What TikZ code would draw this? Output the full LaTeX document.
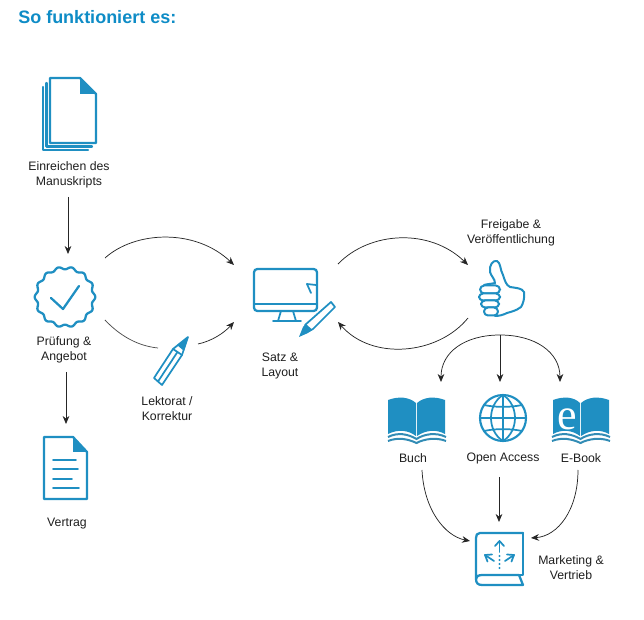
\documentclass[tikz,border=0pt]{standalone}
\usepackage{fontspec}
\setmainfont{Liberation Sans}
\newfontfamily\efont{Liberation Serif}
\usetikzlibrary{arrows.meta}
\definecolor{ib}{HTML}{1F8FC2}
\definecolor{tit}{HTML}{0E8CC6}
\definecolor{txt}{HTML}{1E1E1E}
\tikzset{
  icon/.style={draw=ib,line width=1.7pt,line join=round,line cap=round},
  thin icon/.style={draw=ib,line width=1.3pt,line join=round,line cap=round},
  band/.style={draw=ib!80!gray,line width=1.5pt},
  lab/.style={font=\fontsize{9.2pt}{11.3pt}\selectfont,text=txt,align=center,inner sep=0pt},
  conn/.style={draw=black!85,line width=0.55pt,-{Stealth[length=6pt,width=5pt]}},
  plain/.style={draw=black!70,line width=0.55pt}
}
\begin{document}
\begin{tikzpicture}[x=0.75pt,y=-0.75pt]
\useasboundingbox (0,0) rectangle (644,620);
\node[anchor=west,inner sep=0pt,font=\bfseries\fontsize{13.5pt}{15pt}\selectfont,text=tit] (title) at (18,17) {So funktioniert es:};

% labels
\node[lab] (l1) at (69,175) {Einreichen des\\Manuskripts};
\node[lab] (l2) at (64,350) {Prüfung \&\\Angebot};
\node[lab] (l3) at (67,524) {Vertrag};
\node[lab] (l4) at (167,409) {Lektorat /\\Korrektur};
\node[lab] (l5) at (280,366) {Satz \&\\Layout};
\node[lab] (l6) at (511,233) {Freigabe \&\\Veröffentlichung};
\node[lab] (l7) at (413,458) {Buch};
\node[lab] (l8) at (503,458) {Open Access};
\node[lab] (l9) at (581,458) {E-Book};
\node[lab] (l10) at (571,568) {Marketing \&\\Vertrieb};

% connector ends
\foreach \n/\x/\y in {a1/68/197,a2/68/254,b1/66/372,b2/66/424,c1/105/258,c2/234/265,d1/105/320,d2/158/348,d3/198/344,d4/234/322,e1/338/264,e2/468/265,f1/468/318,f2/338/322,g0/500/335,g1/441/382,g2/500/382,g3/560/382,h1/422/470,h2/470/541,i1/499/477,i2/499/522,j1/578/470,j2/531/538}
  \coordinate (\n) at (\x,\y);

\draw[conn] (a1) -- (a2);
\draw[conn] (b1) -- (b2);
\draw[conn] (c1) .. controls (135,231) and (195,228) .. (c2);
\draw[plain] (d1) .. controls (120,336) and (138,346) .. (d2);
\draw[conn] (d3) .. controls (212,341) and (224,333) .. (d4);
\draw[conn] (e1) .. controls (370,231) and (430,228) .. (e2);
\draw[conn] (f1) .. controls (438,355) and (372,361) .. (f2);
\draw[conn] (g0) .. controls (465,335) and (441,352) .. (g1);
\draw[conn] (g0) -- (g2);
\draw[conn] (g0) .. controls (535,335) and (560,352) .. (g3);
\draw[conn] (h1) .. controls (424,510) and (445,536) .. (h2);
\draw[conn] (i1) -- (i2);
\draw[conn] (j1) .. controls (578,510) and (558,536) .. (j2);

% stack of pages
\draw[icon] (50,78) -- (80,78) -- (96,94) -- (96,143) -- (50,143) -- cycle;
\fill[ib] (80,78) -- (96,94) -- (80,94) -- cycle;
\draw[icon] (46.5,83) -- (46.5,146.5) -- (92,146.5);
\draw[icon] (43,87) -- (43,150) -- (88,150);

% badge
\draw[icon,samples=280,domain=0:360] plot ({65+(29+1.3*cos(14*\x))*cos(\x)},{297+(29+1.3*cos(14*\x))*sin(\x)}) -- cycle;
\draw[icon] (51,298) -- (63,309) -- (79,286);

% pencil
\draw[thin icon] (188,337) -- (173,349) -- (154,378) -- (162,385) -- (182,355) -- cycle;
\draw[thin icon] (177.5,352) -- (158,381.5);
\draw[thin icon] (173,349) -- (182,355);
\fill[ib] (188,337) -- (177,345) -- (184,351) -- cycle;

% monitor
\draw[icon,rounded corners=2.5pt] (254,269) rectangle (317,311);
\draw[icon] (254,304) -- (317,304);
\draw[thin icon] (281,311) -- (278,321);
\draw[thin icon] (293,311) -- (296,321);
\draw[thin icon] (273,321) -- (301,321);
\draw[thin icon] (307,284) -- (316,285);
\draw[thin icon] (307,284) -- (311,293);
% marker
\draw[thin icon,fill=white] (305,325) -- (331,302) -- (335,307) -- (313,329) -- (309,331) -- cycle;
\fill[ib] (299,337) -- (303,327) -- (306,324) -- (312.5,330) -- (308,333) -- cycle;

% thumb
\draw[icon,line width=1.5pt] (490,272) .. controls (489,265) and (493,260) .. (497,261)
  .. controls (501,263) and (500,270) .. (503,275)
  .. controls (505,281) and (506,285) .. (510,287)
  .. controls (516,288) and (522,288) .. (524,292)
  .. controls (525,298) and (523,304) .. (521,307)
  .. controls (516,311) and (510,312) .. (507,313)
  .. controls (503,315) and (499,316) .. (495,316);
\draw[icon,line width=1.5pt] (490,272) .. controls (491,276) and (495,279) .. (495,283) .. controls (491,284) and (487,284) .. (484,285);
\draw[icon,line width=1.5pt,fill=white,rounded corners=3.2pt] (480,285.5) rectangle (500,293.5);
\draw[icon,line width=1.5pt,fill=white,rounded corners=3pt] (479,293.5) rectangle (500,300.5);
\draw[icon,line width=1.5pt,fill=white,rounded corners=3pt] (481,300.5) rectangle (499,307.5);
\draw[icon,line width=1.5pt,fill=white,rounded corners=3pt] (484,307.5) rectangle (498,315.5);

% Buch
\fill[ib] (388,400) .. controls (399,396) and (409,397) .. (416,403) -- (416,436) .. controls (408,430) and (398,429) .. (388,434) -- cycle;
\fill[ib] (417,403) .. controls (424,397) and (434,396) .. (445,400) -- (445,434) .. controls (436,429) and (426,430) .. (417,436) -- cycle;
\draw[band] (388,437) .. controls (398,432) and (408,434) .. (416.5,439) .. controls (424,434) and (436,432) .. (446,437);
\draw[band] (388,441) .. controls (398,437) and (408,439) .. (416.5,443) .. controls (424,439) and (436,437) .. (446,441);

% Globe
\begin{scope}[thin icon]
\draw[line width=1.6pt] (503,418) circle (17.25pt);
\draw (503,395) -- (503,441);
\draw (480,418) -- (526,418);
\draw (503,395) .. controls (487,405) and (487,431) .. (503,441);
\draw (503,395) .. controls (519,405) and (519,431) .. (503,441);
\draw (484,405) .. controls (495,407.5) and (511,407.5) .. (522,405);
\draw (484,431) .. controls (495,428.5) and (511,428.5) .. (522,431);
\end{scope}

% E-Book
\fill[ib] (553,400) .. controls (564,396) and (574,397) .. (580,403) -- (580,436) .. controls (572,430) and (562,429) .. (553,434) -- cycle;
\fill[ib] (581,403) .. controls (588,397) and (598,396) .. (609,400) -- (609,434) .. controls (600,429) and (590,430) .. (581,436) -- cycle;
\draw[band] (552,437) .. controls (562,432) and (572,434) .. (580.5,439) .. controls (588,434) and (600,432) .. (610,437);
\draw[band] (552,441) .. controls (562,437) and (572,439) .. (580.5,443) .. controls (588,439) and (600,437) .. (610,441);
\node[inner sep=0pt,text=white,font=\efont\fontsize{33pt}{33pt}\selectfont] (ebooke) at (567,419) {e};

% Marketing book
\draw[icon] (523,533) -- (480,533) .. controls (477,533) and (476,535) .. (476,538) -- (476,579) .. controls (476,583) and (478,585) .. (482,585) -- (523,585) -- (519,575) -- (482,575) .. controls (478,575) and (476,577) .. (476,579);
\draw[icon] (523,533) -- (523,575) -- (519,575);
\draw[thin icon] (495,546) -- (499.5,541) -- (504,546);
\draw[thin icon] (499.5,541) -- (499.5,552);
\draw[thin icon] (492,554.5) -- (485,555) -- (487.5,561.5);
\draw[thin icon] (485,555) -- (494,561);
\draw[thin icon] (507,554.5) -- (514,555) -- (511.5,561.5);
\draw[thin icon] (514,555) -- (505,561);
\foreach \yy in {556,560,564,568}
  \fill[ib] (499.5,\yy) circle (0.9pt);

% Vertrag
\draw[icon] (44,437) -- (73,437) -- (87,452) -- (87,499) -- (44,499) -- cycle;
\fill[ib] (73,437) -- (87,452) -- (73,452) -- cycle;
\draw[thin icon] (53,460) -- (76,460);
\draw[thin icon] (53,469) -- (78,469);
\draw[thin icon] (53,479) -- (72,479);
\draw[thin icon] (53,488) -- (79,488);
\end{tikzpicture}
\end{document}
